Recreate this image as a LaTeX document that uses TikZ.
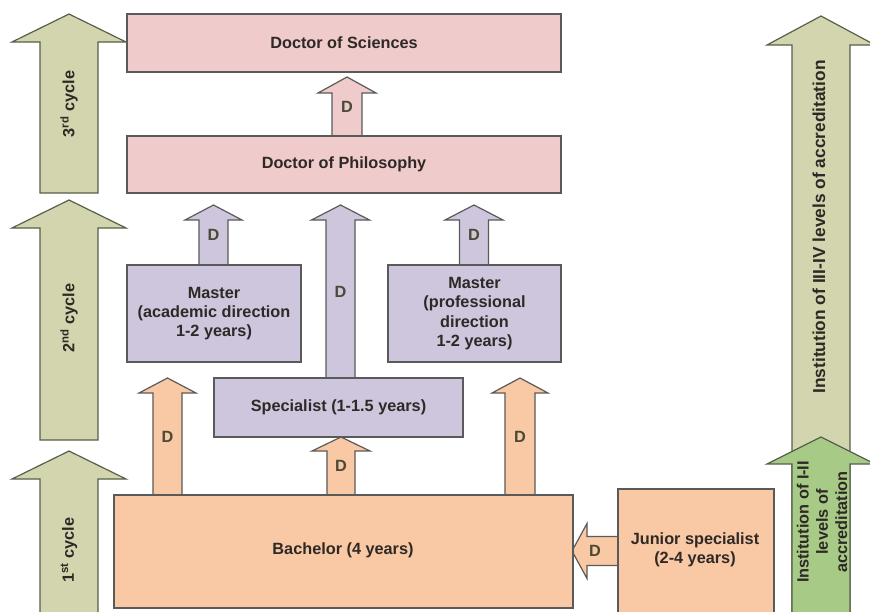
\documentclass[tikz,border=0pt]{standalone}
\usepackage{fontspec}
\setmainfont{Liberation Sans}
\usetikzlibrary{fit}

\definecolor{pinkfill}{HTML}{F0CBCB}
\definecolor{lavfill}{HTML}{CEC6DD}
\definecolor{orangefill}{HTML}{F9C8A4}
\definecolor{olivefill}{HTML}{D3D5AE}
\definecolor{greenfill}{HTML}{A8CA87}
\definecolor{edgegray}{HTML}{5A5A5A}
\definecolor{oliveedge}{HTML}{56604A}
\definecolor{inkdark}{HTML}{2E2926}
\definecolor{dink}{HTML}{4A4A36}

\tikzset{
  txt/.style={text=inkdark, font=\fontsize{12.2}{14.4}\selectfont\bfseries, align=center},
  dlab/.style={text=dink, font=\fontsize{12.2}{14.4}\selectfont\bfseries, inner sep=0pt},
  box/.style={draw=edgegray, line width=0.9pt, inner sep=0pt},
  arr/.style={draw=edgegray, line width=0.9pt, line join=miter},
  bigarr/.style={draw=oliveedge, line width=0.9pt, line join=miter},
  % block arrow pointing up from its base point:
  % #1 length, #2 half shaft width, #3 half head width, #4 head length, #5 label
  pics/blkarrow/.style n args={5}{code={
    \path[pic actions] (-#2,0) -- (-#2,-#1+#4) -- (-#3,-#1+#4) -- (0,-#1)
      -- (#3,-#1+#4) -- (#2,-#1+#4) -- (#2,0) -- cycle;
    \node[dlab] (-label) at (0,-#1/2) {#5};
  }},
}

\begin{document}
\begin{tikzpicture}[x=0.75pt,y=-0.75pt]
\useasboundingbox (0,0) rectangle (870,611);
\fill[white] (0,0) rectangle (870,611);

% cycle arrows on the left
\pic[bigarr, fill=olivefill] (cyc3) at (69,193) {blkarrow={179}{29}{57}{28}{}};
\pic[bigarr, fill=olivefill] (cyc2) at (69,440) {blkarrow={240}{29}{57}{28}{}};
\pic[bigarr, fill=olivefill] (cyc1) at (69,616) {blkarrow={165}{29}{57}{28}{}};
\node[txt, rotate=90] (t3) at (69,104) {3\textsuperscript{rd} cycle};
\node[txt, rotate=90] (t2) at (69,318) {2\textsuperscript{nd} cycle};
\node[txt, rotate=90] (t1) at (69,550) {1\textsuperscript{st} cycle};

% institution arrows on the right
\pic[bigarr, fill=olivefill] (inst34) at (821,616) {blkarrow={600}{29}{54}{29}{}};
\pic[bigarr, fill=greenfill] (inst12) at (821,616) {blkarrow={179}{29}{54}{27}{}};
\node[txt, rotate=90, font=\fontsize{13}{15}\selectfont\bfseries] (ti34) at (819,227)
  {Institution of III-IV levels of accreditation};
\node[txt, rotate=90] (ti12) at (822,522) {Institution of I-II\\levels of\\accreditation};

% transition arrows between levels
\pic[arr, fill=pinkfill] (dp) at (347,136) {blkarrow={59}{15}{29}{16}{D}};
\pic[arr, fill=lavfill] (dl1) at (213.5,265) {blkarrow={60}{14.5}{28.5}{15}{D}};
\pic[arr, fill=lavfill] (dl2) at (340.5,378) {blkarrow={173}{14.5}{29}{15}{D}};
\pic[arr, fill=lavfill] (dl3) at (474,265) {blkarrow={60}{14.5}{29}{15}{D}};
\pic[arr, fill=orangefill] (do1) at (167.5,495) {blkarrow={117}{14.5}{28.5}{15}{D}};
\pic[arr, fill=orangefill] (do2) at (341,495) {blkarrow={58}{14}{29}{14}{D}};
\pic[arr, fill=orangefill] (do3) at (520,495) {blkarrow={117}{15}{28}{15}{D}};
\pic[arr, fill=orangefill, rotate=90] (dj) at (618,551) {blkarrow={46}{14.5}{27.5}{15}{D}};

% qualification boxes
\node[box, fill=pinkfill, fit={(127,14) (561,72)}] (dsc) {};
\node[box, fill=pinkfill, fit={(127,136) (561,193)}] (phd) {};
\node[box, fill=lavfill, fit={(127,265) (301,362)}] (mac) {};
\node[box, fill=lavfill, fit={(388,265) (561,362)}] (mpr) {};
\node[box, fill=lavfill, fit={(214,378) (463,437)}] (spc) {};
\node[box, fill=orangefill, fit={(114,495) (573,608)}] (bac) {};
\node[box, fill=orangefill, fit={(618,489) (774,614)}] (jun) {};

% box captions
\node[txt] (dsctxt) at (dsc.center) {Doctor of Sciences};
\node[txt] (phdtxt) at (phd.center) {Doctor of Philosophy};
\node[txt] (mactxt) at (mac.center) {Master\\(academic direction\\1-2 years)};
\node[txt] (mprtxt) at (mpr.center) {Master\\(professional\\direction\\1-2 years)};
\node[txt] (spctxt) at (spc.center) {Specialist (1-1.5 years)};
\node[txt] (bactxt) at (343,550) {Bachelor (4 years)};
\node[txt] (juntxt) at (695,550) {Junior specialist\\(2-4 years)};
\end{tikzpicture}
\end{document}
